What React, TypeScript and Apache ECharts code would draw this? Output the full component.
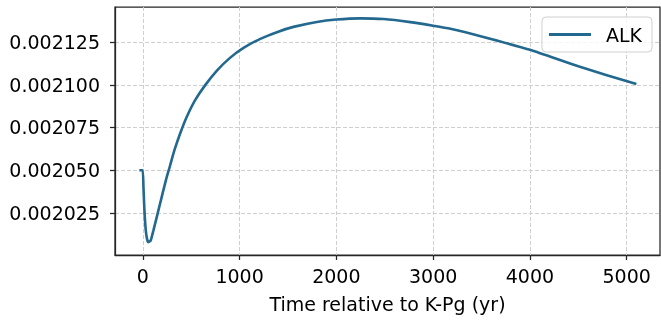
import React, { useEffect, useRef } from "react";
import * as echarts from "echarts";

const timeYr = [-35, -2, 7, 17, 31, 45, 58, 70, 83, 110, 145, 179, 213, 248, 283, 327, 386, 455, 541, 645, 766, 904, 1041, 1214, 1400, 1557, 1798, 2000, 2248, 2489, 2765, 3000, 3179, 3500, 4000, 4500, 5100];
const alk = [0.00205, 0.00205, 0.00204, 0.0020266, 0.0020148, 0.0020095, 0.0020079, 0.0020082, 0.002009, 0.0020148, 0.0020227, 0.0020305, 0.0020383, 0.0020461, 0.0020529, 0.0020617, 0.0020715, 0.0020813, 0.002091, 0.0020998, 0.0021083, 0.0021159, 0.0021216, 0.0021269, 0.0021311, 0.0021339, 0.0021368, 0.0021382, 0.0021389, 0.0021385, 0.0021367, 0.0021346, 0.0021328, 0.0021283, 0.0021205, 0.0021108, 0.0021004];
const xTicks = [0, 1000, 2000, 3000, 4000, 5000];
const yTicks = [0.002025, 0.00205, 0.002075, 0.0021, 0.002125];

const FONT = "DejaVu Sans";

export default function App() {
  const ref = useRef<HTMLDivElement>(null);
  useEffect(() => {
    if (!ref.current) return;
    const chart = echarts.init(ref.current, null, { renderer: "svg" });
    const data = timeYr.map((t, i) => [t, alk[i]]);
    chart.setOption({
      animation: false,
      grid: {
        left: 115,
        right: 1,
        top: 7,
        bottom: 73,
        show: true,
        borderColor: "#262626",
        borderWidth: 1.25,
        backgroundColor: "#fff",
      },
      legend: {
        data: ["ALK"],
        right: 9,
        top: 17,
        orient: "vertical",
        padding: [8, 10, 8, 7],
        borderColor: "#d0d0d0",
        borderWidth: 1,
        borderRadius: 4,
        backgroundColor: "rgba(255,255,255,0.8)",
        icon: "rect",
        itemWidth: 42,
        itemHeight: 3,
        textStyle: { fontFamily: FONT, fontSize: 19, color: "#000", padding: [0, 0, 0, 10] },
      },
      xAxis: {
        type: "value",
        min: -287,
        max: 5344,
        name: "Time relative to K-Pg (yr)",
        nameLocation: "middle",
        nameGap: 39,
        nameTextStyle: { fontFamily: FONT, fontSize: 19, color: "#000" },
        axisLine: { show: true, onZero: false, lineStyle: { color: "#262626", width: 1.25 } },
        axisTick: { show: true, length: 5, customValues: xTicks, lineStyle: { color: "#262626", width: 1.25 } },
        axisLabel: {
          customValues: xTicks,
          margin: 11,
          fontFamily: FONT,
          fontSize: 19,
          color: "#000",
          formatter: (v: number) => String(v),
        },
        splitLine: { show: true, lineStyle: { color: "#cfcfcf", type: [4, 2], width: 1 } },
      },
      yAxis: {
        type: "value",
        min: 0.00200035,
        max: 0.00214554,
        axisLine: { show: true, onZero: false, lineStyle: { color: "#262626", width: 1.25 } },
        axisTick: { show: true, length: 5, customValues: yTicks, lineStyle: { color: "#262626", width: 1.25 } },
        axisLabel: {
          customValues: yTicks,
          margin: 15,
          fontFamily: FONT,
          fontSize: 19,
          color: "#000",
          formatter: (v: number) => v.toFixed(6),
        },
        splitLine: { show: true, lineStyle: { color: "#cfcfcf", type: [4, 2], width: 1 } },
      },
      series: [
        {
          name: "ALK",
          type: "line",
          data,
          symbol: "none",
          smooth: 0.2,
          lineStyle: { color: "#22688f", width: 2.6 },
          itemStyle: { color: "#22688f" },
        },
      ],
    });
    return () => chart.dispose();
  }, []);
  return (
    <div
      ref={ref}
      style={{ position: "fixed", left: 0, top: 0, width: 661, height: 328 }}
    />
  );
}
